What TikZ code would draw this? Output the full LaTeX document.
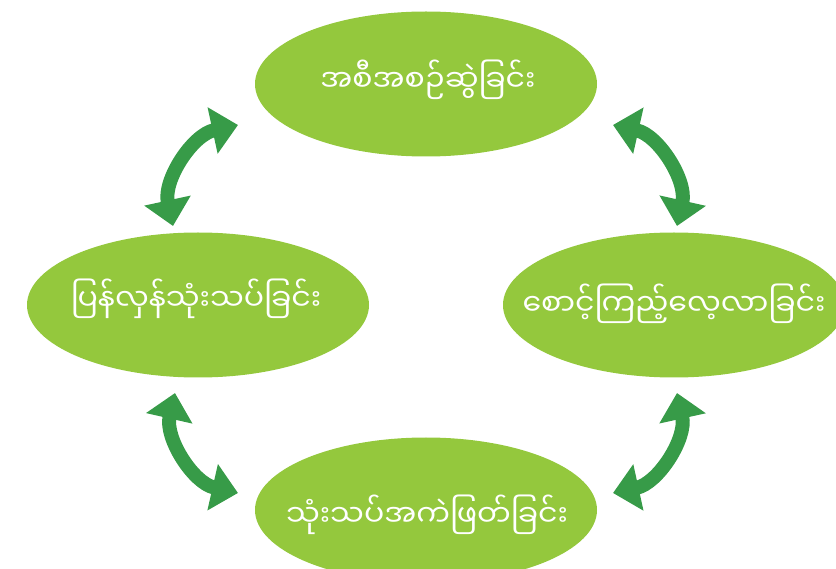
\documentclass[tikz,border=0pt]{standalone}
\usepackage{fontspec}
\newfontfamily\myan[Script=Myanmar]{Noto Sans Myanmar UI}
\usetikzlibrary{shapes.geometric,arrows.meta}
\definecolor{lime}{HTML}{94C83D}
\definecolor{dgreen}{HTML}{379B48}
\tikzset{
  blob/.style={ellipse, fill=lime, draw=none, minimum width=342pt, minimum height=145pt, inner sep=0pt},
  lbl/.style={text=white, font=\myan\fontsize{30}{34}\selectfont, inner sep=0pt},
  cyc/.style={draw=dgreen, line width=14pt, {Triangle[width=46pt,length=26pt,fill=dgreen]}-{Triangle[width=46pt,length=26pt,fill=dgreen]}}
}
\begin{document}
\begin{tikzpicture}[x=1pt,y=-1pt]
\useasboundingbox (0,0) rectangle (836,569);
\begin{scope}
\clip (0,0) rectangle (836,569);
\node[blob] (plan) at (426,84) {};
\node[blob] (monitor) at (674,305) {};
\node[blob] (evaluate) at (426,510) {};
\node[blob] (reflect) at (198,305) {};
\end{scope}
\node[lbl] (tplan) at (428,80) {အစီအစဉ်ဆွဲခြင်း};
\node[lbl] (tmonitor) at (674,304) {စောင့်ကြည့်လေ့လာခြင်း};
\node[lbl] (tevaluate) at (427,515) {သုံးသပ်အကဲဖြတ်ခြင်း};
\node[lbl] (treflect) at (196,299) {ပြန်လှန်သုံးသပ်ခြင်း};
\coordinate (a1s) at (238,125);
\coordinate (a1e) at (173,226);
\coordinate (a2s) at (613,125);
\coordinate (a2e) at (677,226);
\coordinate (a3s) at (238,493);
\coordinate (a3e) at (175,393);
\coordinate (a4s) at (613,493);
\coordinate (a4e) at (677,393);
\draw[cyc] (a1s) to[bend right=45] (a1e);
\draw[cyc] (a2s) to[bend left=45] (a2e);
\draw[cyc] (a3s) to[bend left=45] (a3e);
\draw[cyc] (a4s) to[bend right=45] (a4e);
\end{tikzpicture}
\end{document}
